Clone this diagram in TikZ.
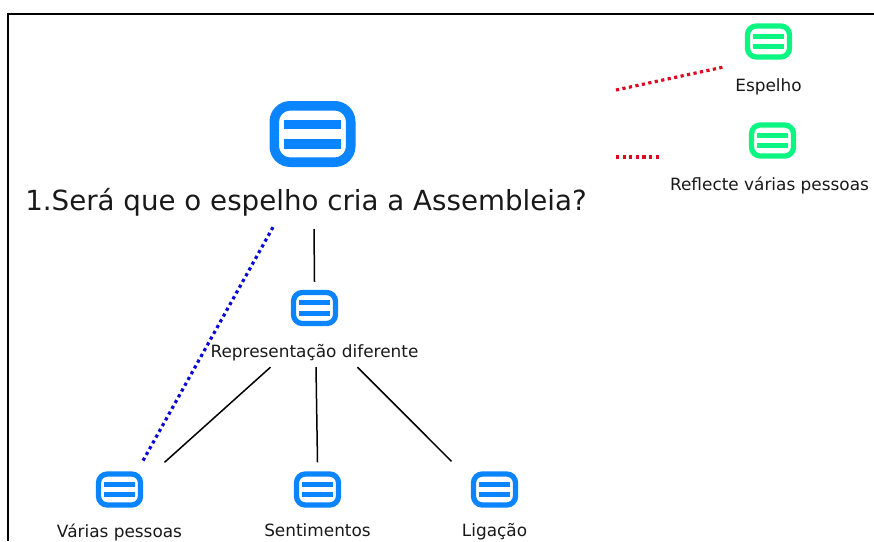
\documentclass[tikz,border=0pt]{standalone}
\usepackage{fontspec}
\setmainfont{DejaVu Sans}
\usetikzlibrary{positioning,calc}
\definecolor{topicblue}{RGB}{10,132,255}
\definecolor{topicgreen}{RGB}{10,245,130}
\definecolor{dotred}{RGB}{220,10,35}
\definecolor{dotblue}{RGB}{10,10,215}
\tikzset{
  topicicon/.style 2 args={draw=#1,fill=white,inner sep=0pt,line width=9.6pt*#2,rounded corners=16pt*#2,
    minimum width=76.4pt*#2,minimum height=56.4pt*#2,
    path picture={
      \fill[#1,sharp corners] ($(path picture bounding box.center)+(-28.5pt*#2,-14.5pt*#2)$) rectangle ++(57pt*#2,9.5pt*#2);
      \fill[#1,sharp corners] ($(path picture bounding box.center)+(-28.5pt*#2,5pt*#2)$) rectangle ++(57pt*#2,9.5pt*#2);
    }},
  smalllabel/.style={inner sep=0pt,font=\fontsize{16.9}{20}\selectfont,text=black!90},
  topicline/.style={black,line width=1.5pt},
  reddots/.style={dotred,line width=3.2pt,dash pattern=on 3.2pt off 3.4pt},
  bluedots/.style={dotblue,line width=3.2pt,dash pattern=on 3.2pt off 3.4pt}
}
\begin{document}
\begin{tikzpicture}[x=1pt,y=-1pt]
\useasboundingbox (0,0) rectangle (874,541);
\draw [line width=2pt] (8,541)--(8,14)--(874,14);

% main topic
\node (mainicon) [topicicon={topicblue}{1}] at (312.5,134) {};
\node (mainlabel) [inner sep=0pt,font=\fontsize{27.7}{33}\selectfont,text=black!90] at (306,202) {1.Será que o espelho cria a Assembleia?};

% subtopics
\node (repicon) [topicicon={topicblue}{.55}] at (314.5,308) {};
\node (replabel) [smalllabel,below=18pt of repicon] {Representação diferente};
\node (varicon) [topicicon={topicblue}{.55}] at (119.5,489.5) {};
\node (varlabel) [smalllabel,below=16pt of varicon] {Várias pessoas};
\node (senticon) [topicicon={topicblue}{.55}] at (317.5,489.5) {};
\node (sentlabel) [smalllabel,below=16pt of senticon] {Sentimentos};
\node (ligicon) [topicicon={topicblue}{.55}] at (494.5,489.5) {};
\node (liglabel) [smalllabel,below=16pt of ligicon] {Ligação};

% floating topics
\node (espicon) [topicicon={topicgreen}{.55}] at (768.5,41.5) {};
\node (esplabel) [smalllabel,below=19pt of espicon] {Espelho};
\node (reficon) [topicicon={topicgreen}{.55}] at (772.5,140.5) {};
\node (reflabel) [smalllabel,xshift=-3pt,below=18pt of reficon] {Reflecte várias pessoas};

\coordinate (redstartA) at (616,90);
\coordinate (redstartB) at (616,157);

\draw [topicline] ([xshift=8pt,yshift=-13pt]mainlabel.south) -- ([yshift=8pt]repicon.north);
\draw [topicline] ([xshift=-44pt,yshift=-6pt]replabel.south) -- ([xshift=45pt,yshift=9pt]varicon.north);
\draw [topicline] ([xshift=1.5pt,yshift=-6pt]replabel.south) -- ([yshift=9pt]senticon.north);
\draw [topicline] ([xshift=43pt,yshift=-6pt]replabel.south) -- ([xshift=-43pt,yshift=10pt]ligicon.north);

\draw [bluedots] ([xshift=-33pt,yshift=-11pt]mainlabel.south) -- ([xshift=22pt,yshift=8pt]varicon.north);
\draw [reddots] (redstartA) -- ([xshift=-43pt,yshift=-7pt]espicon.south);
\draw [reddots] (redstartB) -- ([xshift=-112.5pt]reficon.center |- redstartB);
\end{tikzpicture}
\end{document}
